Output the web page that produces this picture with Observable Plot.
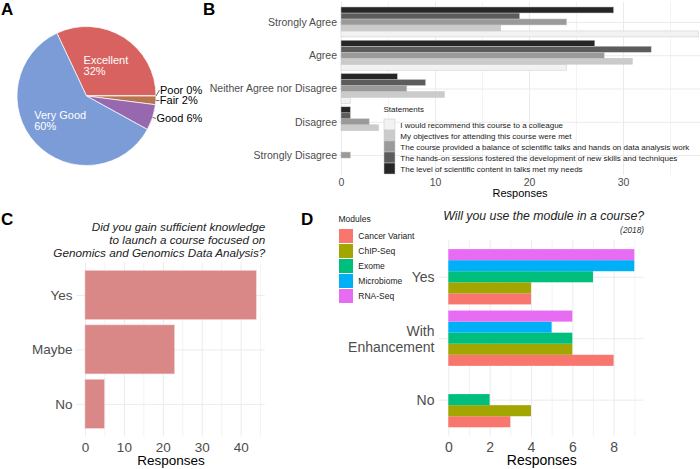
<!DOCTYPE html>
<html><head><meta charset="utf-8">
<script src="https://cdn.jsdelivr.net/npm/d3@7"></script>
<script src="https://cdn.jsdelivr.net/npm/@observablehq/plot@0.6"></script>
<style>
body{margin:0;background:#fff;}
#wrap{position:relative;width:700px;height:469px;overflow:hidden;background:#fff;font-family:"Liberation Sans",Arial,sans-serif;}
.lbl{position:absolute;font-weight:bold;font-size:17px;line-height:1;color:#000;}
</style></head><body><div id="wrap"></div>
<script>
// ---------------- DATA ----------------
// Panel A
const ratingLabels = ["Excellent","Poor","Fair","Good","Very Good"];
const ratingPercents = [32,0,2,6,60];
const ratingColors = ["#D7625F","#8FA85E","#B8744F","#9768AE","#7B9CD6"];

// Panel B
const agreementLevels = ["Strongly Agree","Agree","Neither Agree nor Disagree","Disagree","Strongly Disagree"];
const statements = [
  "I would recommend this course to a colleague",
  "My objectives for attending this course were met",
  "The course provided a balance of scientific talks and hands on data analysis work",
  "The hands-on sessions fostered the development of new skills and techniques",
  "The level of scientific content in talks met my needs"
];
const statementGreys = ["#F2F2F2","#CBCBCB","#9A9A9A","#5C5C5C","#262626"];
// counts by agreement level: SA, A, N, D, SD
const recommendCounts  = [38,24,1,0,0];
const objectivesCounts = [17,31,11,4,0];
const balanceCounts    = [24,28,7,3,1];
const handsOnCounts    = [19,33,9,1,0];
const contentCounts    = [29,27,6,1,0];
const ticksB = [0,10,20,30];
const minorTicksB = [5,15,25,35];

// Panel C
const titleC = "Did you gain sufficient knowledge\nto launch a course focused on\nGenomics and Genomics Data Analysis?";
const launchAnswers = ["Yes","Maybe","No"];
const launchCounts = [44,23,5];
const ticksC = [0,10,20,30,40];
const minorTicksC = [5,15,25,35,45];

// Panel D
const titleD = "Will you use the module in a course?";
const subtitleD = "(2018)";
const useAnswers = ["Yes","With\nEnhancement","No"];
const modules = ["Cancer Variant","ChIP-Seq","Exome","Microbiome","RNA-Seq"];
const moduleColors = ["#F8766D","#A3A500","#00BF7D","#00B0F6","#E76BF3"];
// counts by answer: Yes, With Enhancement, No
const cancerVariantCounts = [4,8,3];
const chipSeqCounts       = [4,6,4];
const exomeCounts         = [7,6,2];
const microbiomeCounts    = [9,5,0];
const rnaSeqCounts        = [9,6,0];
const ticksD = [0,2,4,6,8];
const minorTicksD = [1,3,5,7,9];

// ---------------- HELPERS ----------------
const wrap = document.getElementById("wrap");
const FONT = "'Liberation Sans',Arial,sans-serif";
const svgStyle = (l,t) => `position:absolute;left:${l}px;top:${t}px;background:transparent;overflow:visible;font-family:${FONT};`;
const GRID = "#ebebeb";
const AXIS = "#4d4d4d";
const DODGE = 0.9;

function dodgeRows(groups, series, countsBySeries, keyS, keyG) {
  const pos = groups.map((d,i) => groups.length - i);
  const w = DODGE / series.length;
  const rows = [];
  series.forEach((s, si) => groups.forEach((g, gi) => {
    const v = countsBySeries[si][gi];
    if (v > 0) {
      const y1 = pos[gi] - DODGE/2 + si*w;
      rows.push({[keyS]: s, [keyG]: g, value: v, y1, y2: y1 + w});
    }
  }));
  return {rows, pos};
}

// ---------------- PANEL A (pie) ----------------
const pieData = ratingLabels.map((label,i) => ({label, pct: ratingPercents[i], color: ratingColors[i]}));
const measure = document.createElement("canvas").getContext("2d");
measure.font = `11px ${FONT}`;

function pieRender(index, scales, values, dims) {
  const fw = dims.width - dims.marginLeft - dims.marginRight;
  const fh = dims.height - dims.marginTop - dims.marginBottom;
  const cx = dims.marginLeft + fw/2, cy = dims.marginTop + fh/2, r = Math.min(fw,fh)/2;
  const start = Math.PI/2 - 2*Math.PI*pieData[0].pct/100;
  const arcs = d3.pie().value(d => d.pct).sort(null).startAngle(start).endAngle(start + 2*Math.PI)(pieData);
  const g = d3.create("svg:g").attr("transform", `translate(${cx},${cy})`).attr("text-anchor", "start");
  const arc = d3.arc().innerRadius(0).outerRadius(r);
  g.selectAll("path").data(arcs).join("path")
    .attr("d", arc).attr("fill", d => d.data.color).attr("stroke", "#fff").attr("stroke-width", 0.7);
  const fs = 11;
  // inside labels
  arcs.filter(a => a.data.pct >= 10).forEach(a => {
    const m = (a.startAngle + a.endAngle)/2, rho = 0.52*r;
    const px = rho*Math.sin(m), py = -rho*Math.cos(m);
    const lines = [a.data.label, a.data.pct + "%"];
    const w = d3.max(lines, l => measure.measureText(l).width);
    const t = g.append("text").attr("fill", "#fff").attr("font-size", fs).attr("text-anchor", "start");
    lines.forEach((l, k) => t.append("tspan").attr("x", px - w/2).attr("y", py + (k - 0.5)*11.6).attr("dy", "0.35em").text(l));
  });
  // outside labels with simple repel
  const outs = arcs.filter(a => a.data.pct < 10).map(a => {
    const m = (a.startAngle + a.endAngle)/2;
    return {a, m, ex: r*Math.sin(m), ey: -r*Math.cos(m), lx: (r+3)*Math.sin(m), ly: -(r+3)*Math.cos(m)};
  }).sort((p,q) => p.ly - q.ly);
  for (let i = outs.length - 2; i >= 0; i--) {
    if (outs[i].ly > outs[i+1].ly - 10.5) outs[i].ly = outs[i+1].ly - 10.5;
  }
  outs.forEach(o => {
    g.append("line").attr("x1", o.ex).attr("y1", o.ey).attr("x2", o.lx + 0.5).attr("y2", o.ly)
      .attr("stroke", "#000").attr("stroke-width", 0.6);
    g.append("text").attr("x", o.lx + 1).attr("y", o.ly).attr("dy", "0.35em").attr("font-size", fs)
      .attr("text-anchor", "start").attr("fill", "#000").text(`${o.a.data.label} ${o.a.data.pct}%`);
  });
  return g.node();
}

wrap.appendChild(Plot.plot({
  width: 200, height: 200,
  marginLeft: 17, marginRight: 44, marginTop: 26.5, marginBottom: 34.5,
  style: svgStyle(0, 0),
  marks: [pieRender]
}));

// ---------------- PANEL B ----------------
const B = dodgeRows(agreementLevels, statements,
  [recommendCounts, objectivesCounts, balanceCounts, handsOnCounts, contentCounts], "statement", "level");

wrap.appendChild(Plot.plot({
  width: 500, height: 205,
  marginLeft: 139, marginRight: 0, marginTop: 2, marginBottom: 30,
  style: svgStyle(200, 0),
  x: {domain: [-0.21, 38.19], axis: null},
  y: {domain: [0.4, 5.6], axis: null},
  color: {domain: statements, range: statementGreys},
  marks: [
    Plot.ruleX(minorTicksB, {x: d => d, stroke: GRID, strokeWidth: 0.6}),
    Plot.ruleX(ticksB, {x: d => d, stroke: GRID, strokeWidth: 1}),
    Plot.ruleY(B.pos, {y: d => d, stroke: GRID, strokeWidth: 1}),
    Plot.rectX(B.rows, {x1: 0, x2: "value", y1: "y1", y2: "y2", fill: "statement", stroke: "#c8c8c8", strokeWidth: 0.5}),
    Plot.text(agreementLevels, {y: (d,i) => B.pos[i], text: d => d, frameAnchor: "left", lineAnchor: "middle", dx: -2.5, textAnchor: "end", fontSize: 10.5, fill: AXIS}),
    Plot.text(ticksB, {x: d => d, text: d => String(d), frameAnchor: "bottom", lineAnchor: "middle", dy: 7, fontSize: 10.5, fill: AXIS}),
    Plot.text(["Responses"], {text: d => d, frameAnchor: "bottom", lineAnchor: "middle", dy: 18, fontSize: 11, fill: "#000"})
  ]
}));

// legend B
wrap.appendChild(Plot.plot({
  width: 320, height: 78,
  marginLeft: 0, marginRight: 0, marginTop: 0, marginBottom: 0,
  style: svgStyle(380, 100),
  x: {type: "band", domain: ["key"], range: [4, 15.5], padding: 0, axis: null},
  y: {type: "band", domain: statements, range: [16.9, 75.1], paddingInner: 0.04, paddingOuter: 0, axis: null},
  color: {domain: statements, range: statementGreys},
  marks: [
    Plot.cell(statements, {x: () => "key", y: d => d, fill: d => d, stroke: "#c8c8c8", strokeWidth: 0.5}),
    Plot.text(statements, {x: () => "key", y: d => d, text: d => d, dx: 10.3, textAnchor: "start", lineAnchor: "middle", fontSize: 8, fill: "#1a1a1a"}),
    Plot.text(["Statements"], {text: d => d, frameAnchor: "top-left", lineAnchor: "middle", dx: 3, dy: 9, textAnchor: "start", fontSize: 8, fill: "#1a1a1a"})
  ]
}));

// ---------------- PANEL C ----------------
const posC = launchAnswers.map((d,i) => launchAnswers.length - i);
const rowsC = launchAnswers.map((a,i) => ({answer: a, value: launchCounts[i], y1: posC[i] - DODGE/2, y2: posC[i] + DODGE/2}));

wrap.appendChild(Plot.plot({
  width: 300, height: 264,
  marginLeft: 76.4, marginRight: 35.2, marginTop: 57.3, marginBottom: 32.5,
  style: svgStyle(0, 205),
  x: {domain: [-2.2, 46.2], axis: null},
  y: {domain: [0.4, 3.6], axis: null},
  marks: [
    Plot.ruleX(minorTicksC, {x: d => d, stroke: GRID, strokeWidth: 0.6}),
    Plot.ruleX(ticksC, {x: d => d, stroke: GRID, strokeWidth: 1}),
    Plot.ruleY(posC, {y: d => d, stroke: GRID, strokeWidth: 1}),
    Plot.rectX(rowsC, {x1: 0, x2: "value", y1: "y1", y2: "y2", fill: "#DA8788", stroke: "#f2d0d0", strokeWidth: 0.5}),
    Plot.text(launchAnswers, {y: (d,i) => posC[i], text: d => d, frameAnchor: "left", lineAnchor: "middle", dx: -4.4, textAnchor: "end", fontSize: 13.5, fill: AXIS}),
    Plot.text(ticksC, {x: d => d, text: d => String(d), frameAnchor: "bottom", lineAnchor: "middle", dy: 10.2, fontSize: 13.5, fill: AXIS}),
    Plot.text(["Responses"], {text: d => d, frameAnchor: "bottom", lineAnchor: "middle", dy: 23.5, fontSize: 13.5, fill: "#000"}),
    Plot.text([titleC], {text: d => d, frameAnchor: "top-right", lineAnchor: "middle", dy: -23.3, textAnchor: "end", lineHeight: 1.11, fontStyle: "italic", fontSize: 11.7, fill: "#222"})
  ]
}));

// ---------------- PANEL D ----------------
const D = dodgeRows(useAnswers, modules,
  [cancerVariantCounts, chipSeqCounts, exomeCounts, microbiomeCounts, rnaSeqCounts], "module", "answer");

wrap.appendChild(Plot.plot({
  width: 400, height: 264,
  marginLeft: 139, marginRight: 56.4, marginTop: 34.9, marginBottom: 32.5,
  style: svgStyle(300, 205),
  x: {domain: [-0.45, 9.45], axis: null},
  y: {domain: [0.4, 3.6], axis: null},
  color: {domain: modules, range: moduleColors},
  marks: [
    Plot.ruleX(minorTicksD, {x: d => d, stroke: GRID, strokeWidth: 0.6}),
    Plot.ruleX(ticksD, {x: d => d, stroke: GRID, strokeWidth: 1}),
    Plot.ruleY(D.pos, {y: d => d, stroke: GRID, strokeWidth: 1}),
    Plot.rectX(D.rows, {x1: 0, x2: "value", y1: "y1", y2: "y2", fill: "module"}),
    Plot.text(useAnswers, {y: (d,i) => D.pos[i], text: d => d, frameAnchor: "left", lineAnchor: "middle", dx: -5, textAnchor: "end", lineHeight: 1.14, fontSize: 14, fill: AXIS}),
    Plot.text(ticksD, {x: d => d, text: d => String(d), frameAnchor: "bottom", lineAnchor: "middle", dy: 10.2, fontSize: 14, fill: AXIS}),
    Plot.text(["Responses"], {text: d => d, frameAnchor: "bottom", lineAnchor: "middle", dy: 23.5, fontSize: 14, fill: "#000"}),
    Plot.text([titleD], {text: d => d, frameAnchor: "top-right", lineAnchor: "middle", dy: -23.9, textAnchor: "end", fontStyle: "italic", fontSize: 12.3, fill: "#222"}),
    Plot.text([subtitleD], {text: d => d, frameAnchor: "top-right", lineAnchor: "middle", dy: -9.9, textAnchor: "end", fontStyle: "italic", fontSize: 8.3, fill: "#333"})
  ]
}));

// legend D
wrap.appendChild(Plot.plot({
  width: 120, height: 102,
  marginLeft: 0, marginRight: 0, marginTop: 0, marginBottom: 0,
  style: svgStyle(330, 205),
  x: {type: "band", domain: ["key"], range: [8.3, 22.7], padding: 0, axis: null},
  y: {type: "band", domain: modules, range: [22.3, 99.4], paddingInner: 0.07, paddingOuter: 0, axis: null},
  color: {domain: modules, range: moduleColors},
  marks: [
    Plot.cell(modules, {x: () => "key", y: d => d, fill: d => d}),
    Plot.text(modules, {x: () => "key", y: d => d, text: d => d, dx: 11.8, textAnchor: "start", lineAnchor: "middle", fontSize: 8.5, fill: "#1a1a1a"}),
    Plot.text(["Modules"], {text: d => d, frameAnchor: "top-left", lineAnchor: "middle", dx: 8, dy: 14, textAnchor: "start", fontSize: 8.5, fill: "#1a1a1a"})
  ]
}));

// ---------------- PANEL LETTERS ----------------
[["A",1,0.9],["B",203,0.9],["C",1,210.6],["D",301,210.6]].forEach(([t,l,tp]) => {
  const d = document.createElement("div");
  d.className = "lbl"; d.textContent = t;
  d.style.left = l + "px"; d.style.top = tp + "px";
  wrap.appendChild(d);
});
</script></body></html>
